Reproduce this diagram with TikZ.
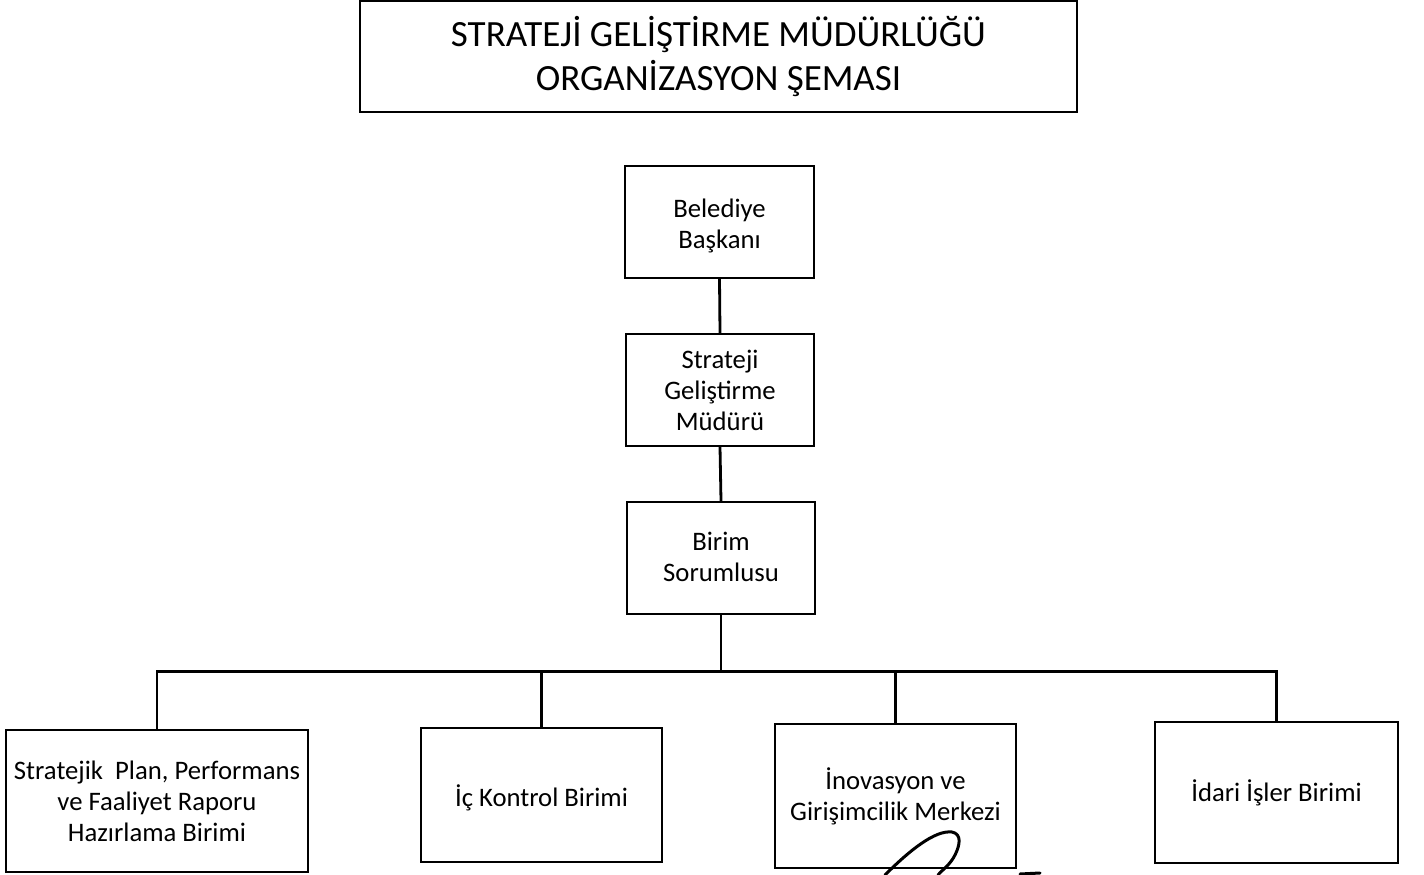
\documentclass[tikz,border=0pt]{standalone}
\usepackage{fontspec}
\setmainfont{Carlito}
\newcommand{\dn}[2]{\raisebox{-#1}[\height][\depth]{\begin{tabular}{@{}c@{}}#2\end{tabular}}}
\begin{document}
\begin{tikzpicture}[x=1pt,y=-1pt,
  box/.style={draw=black,line width=2.2pt,rectangle,align=center,inner sep=0pt,
    font=\fontsize{26.7}{31}\selectfont},
  conn/.style={draw=black,line width=2.8pt},
  sig/.style={draw=black,line width=3pt,line cap=round}]
\useasboundingbox[fill=white] (0,0) rectangle (1424,875);
\node[box,minimum width=717pt,minimum height=111pt,font=\fontsize{37}{44}\selectfont]
  (title) at (718.5,56.5) {STRATEJİ GELİŞTİRME MÜDÜRLÜĞÜ\\ORGANİZASYON ŞEMASI};
\node[box,minimum width=189pt,minimum height=112pt] (bel) at (719.5,222) {\dn{5pt}{Belediye\\Başkanı}};
\node[box,minimum width=188pt,minimum height=112pt] (str) at (720,390) {Strateji\\Geliştirme\\Müdürü};
\node[box,minimum width=188pt,minimum height=112pt] (bir) at (721,558) {\dn{2pt}{Birim\\Sorumlusu}};
\node[box,minimum width=302pt,minimum height=142pt] (sp) at (157,801) {Stratejik\ \ Plan, Performans\\ve Faaliyet Raporu\\Hazırlama Birimi};
\node[box,minimum width=241pt,minimum height=134pt] (ic) at (541.5,795) {\dn{5pt}{İç Kontrol Birimi}};
\node[box,minimum width=241pt,minimum height=144pt] (inov) at (895.5,796) {İnovasyon ve\\Girişimcilik Merkezi};
\node[box,minimum width=243pt,minimum height=141pt] (idari) at (1276.5,792.5) {İdari İşler Birimi};
\coordinate (bus) at ([yshift=-56pt]bir.south);
\draw[conn] (bel.south) -- (str.north);
\draw[conn] (str.south) -- (bir.north);
\draw[conn] (bir.south) -- (bus) -| (sp.north);
\draw[conn] (bus) -| (ic.north);
\draw[conn] (bus) -| (inov.north);
\draw[conn] (bus) -| (idari.north);
% signature scribble
\draw[sig] (885,875) .. controls (910,850) and (935,830) .. (952,832)
  .. controls (962,834) and (960,845) .. (955,855) .. controls (950,865) and (942,870) .. (938,875);
\draw[sig] (1020,874) -- (1040,873);
\end{tikzpicture}
\end{document}
